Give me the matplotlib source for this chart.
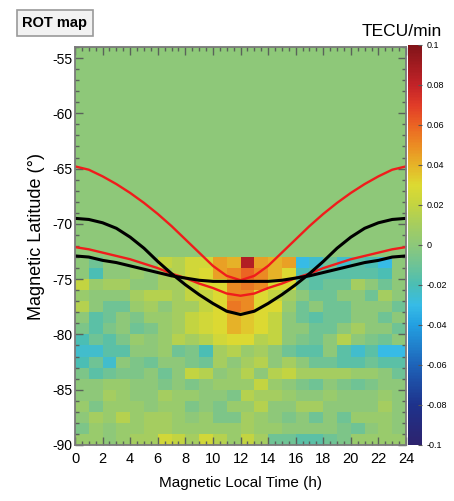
import matplotlib
matplotlib.use("Agg")
import matplotlib.pyplot as plt
import numpy as np
from matplotlib.colors import LinearSegmentedColormap, Normalize
from matplotlib.patches import Rectangle

plt.rcParams['font.family'] = ['Liberation Sans', 'DejaVu Sans']
plt.rcParams['axes.unicode_minus'] = False

# grid: 1 h in MLT, 1 deg in latitude (-90 .. -73)
mlt_edges = np.arange(0, 25, 1)
lat_edges = np.arange(-90, -72, 1)

# ROT values (TECU/min), rows from -73 (top) down to -90 (bottom)
rot_rows = [
    [0.0, -0.01, 0.0, 0.0, 0.0, 0.0, 0.02, 0.015, 0.025, 0.025, 0.045, 0.04, 0.085, 0.045, 0.04, 0.045, -0.03, -0.025, -0.01, -0.025, -0.015, -0.02, -0.03, 0.0],
    [0.0, -0.02, 0.0, 0.0, 0.005, 0.0, 0.01, 0.015, 0.025, 0.03, 0.045, 0.05, 0.06, 0.05, 0.04, 0.03, -0.02, -0.015, -0.015, -0.015, -0.015, -0.015, -0.02, 0.0],
    [0.02, 0.005, 0.01, 0.01, 0.0, 0.0, 0.01, 0.01, 0.02, 0.03, 0.03, 0.05, 0.055, 0.05, 0.03, 0.03, -0.01, -0.015, -0.01, -0.01, 0.01, 0.0, -0.01, 0.0],
    [0.005, 0.0, 0.0, 0.0, 0.01, 0.015, 0.015, 0.01, 0.02, 0.02, 0.03, 0.05, 0.05, 0.03, 0.02, 0.01, 0.0, -0.01, -0.01, 0.0, 0.0, -0.01, 0.01, 0.0],
    [0.015, 0.0, -0.01, -0.01, 0.005, 0.01, 0.0, 0.01, 0.01, 0.02, 0.03, 0.055, 0.05, 0.03, 0.03, 0.005, -0.01, 0.0, -0.01, -0.01, 0.0, 0.0, 0.0, -0.01],
    [0.0, -0.015, -0.01, 0.0, -0.005, 0.005, 0.005, 0.01, 0.02, 0.025, 0.03, 0.04, 0.035, 0.03, 0.02, 0.0, -0.01, -0.015, -0.01, -0.01, 0.0, 0.0, -0.01, 0.0],
    [-0.005, -0.015, -0.005, 0.0, -0.01, -0.005, 0.005, 0.01, 0.02, 0.025, 0.03, 0.04, 0.035, 0.03, 0.02, 0.0, 0.0, -0.01, -0.01, 0.0, 0.01, 0.0, 0.0, -0.01],
    [-0.02, -0.01, -0.015, -0.005, 0.005, 0.0, 0.005, 0.015, 0.01, 0.015, 0.025, 0.03, 0.03, 0.015, 0.02, 0.0, -0.005, -0.01, 0.0, 0.015, 0.0, -0.005, -0.01, 0.0],
    [-0.025, -0.025, -0.015, -0.015, 0.0, 0.0, 0.005, -0.01, -0.005, -0.02, 0.01, 0.015, 0.005, 0.01, 0.0, -0.01, -0.015, -0.015, 0.0, -0.015, -0.025, -0.015, -0.03, -0.03],
    [-0.02, -0.01, -0.025, 0.0, -0.005, -0.01, 0.0, 0.0, -0.005, -0.01, 0.01, 0.0, 0.01, 0.015, 0.0, 0.01, 0.0, -0.01, -0.01, -0.015, -0.015, -0.01, -0.015, -0.015],
    [-0.005, -0.015, -0.01, -0.005, -0.005, 0.0, -0.01, 0.0, 0.02, 0.015, 0.0, 0.005, 0.015, 0.0, 0.015, 0.02, 0.01, 0.01, 0.01, 0.01, 0.005, 0.005, 0.0, -0.01],
    [0.0, 0.0, 0.005, 0.005, 0.0, 0.0, -0.005, 0.0, -0.005, 0.0, 0.005, 0.005, 0.005, 0.02, 0.005, 0.0, -0.005, -0.01, 0.0, -0.005, -0.01, -0.005, 0.0, 0.0],
    [0.0, 0.0, 0.01, 0.005, 0.0, 0.0, 0.01, 0.005, 0.005, 0.0, 0.0, -0.005, 0.015, 0.01, 0.01, 0.005, 0.0, 0.0, 0.005, 0.0, 0.0, 0.0, 0.005, 0.0],
    [0.005, -0.005, 0.005, 0.005, 0.005, 0.0, 0.005, 0.005, -0.005, 0.0, -0.005, 0.005, 0.005, 0.015, 0.0, 0.0, 0.01, 0.01, 0.0, 0.0, 0.0, 0.0, 0.01, 0.0],
    [0.0, 0.01, 0.005, 0.015, 0.005, 0.01, 0.01, 0.005, 0.0, 0.005, -0.005, -0.005, 0.01, 0.005, 0.0, -0.005, 0.0, -0.01, 0.0, -0.01, 0.005, 0.005, 0.005, 0.0],
    [-0.005, 0.005, 0.0, 0.005, 0.005, 0.01, 0.01, 0.005, 0.005, 0.005, 0.005, 0.005, 0.01, 0.005, 0.005, 0.0, 0.0, 0.0, 0.0, -0.005, -0.01, 0.0, 0.005, 0.0],
    [0.005, 0.005, 0.0, 0.005, 0.01, 0.01, 0.025, 0.02, 0.01, 0.025, 0.015, 0.005, 0.02, 0.01, -0.01, -0.01, -0.015, -0.015, -0.01, -0.005, 0.005, 0.005, 0.005, 0.005],
]

# oval boundaries vs MLT (h)
mlt = list(range(25))
red_upper = [-64.8, -65.1, -65.7, -66.4, -67.2, -68.1, -69.1, -70.2, -71.4, -72.6, -73.8, -74.7, -75.1,
             -74.7, -73.8, -72.6, -71.4, -70.2, -69.1, -68.1, -67.2, -66.4, -65.7, -65.1, -64.8]
red_lower = [-72.1, -72.3, -72.6, -72.9, -73.2, -73.6, -74.0, -74.5, -74.9, -75.4, -75.8, -76.3, -76.5,
             -76.3, -75.8, -75.4, -74.9, -74.5, -74.0, -73.6, -73.2, -72.9, -72.6, -72.3, -72.1]
black_upper = [-69.5, -69.6, -69.9, -70.4, -71.2, -72.2, -73.4, -74.5, -75.5, -76.4, -77.2, -77.9, -78.2,
               -77.9, -77.2, -76.4, -75.5, -74.5, -73.4, -72.2, -71.2, -70.4, -69.9, -69.6, -69.5]
black_lower = [-72.9, -73.0, -73.3, -73.5, -73.8, -74.1, -74.4, -74.7, -74.9, -75.1, -75.2, -75.2, -75.2,
               -75.2, -75.2, -75.1, -74.9, -74.7, -74.4, -74.1, -73.8, -73.5, -73.3, -73.0, -72.9]

cbar_ticks = [-0.1, -0.08, -0.06, -0.04, -0.02, 0, 0.02, 0.04, 0.06, 0.08, 0.1]
cbar_labels = ['-0.1', '-0.08', '-0.06', '-0.04', '-0.02', '0', '0.02', '0.04', '0.06', '0.08', '0.1']

# palette
stops = [
    (0.00, (45, 35, 110)), (0.10, (30, 50, 140)), (0.20, (30, 100, 185)),
    (0.30, (35, 160, 225)), (0.35, (55, 188, 230)), (0.40, (75, 190, 180)),
    (0.45, (110, 195, 150)), (0.50, (141, 200, 122)), (0.55, (165, 205, 95)),
    (0.60, (195, 212, 65)), (0.65, (220, 218, 50)), (0.70, (230, 180, 40)),
    (0.75, (235, 140, 35)), (0.80, (235, 100, 35)), (0.85, (225, 60, 40)),
    (0.90, (195, 35, 40)), (1.00, (130, 20, 25)),
]
cmap = LinearSegmentedColormap.from_list(
    'rot', [(p, tuple(c / 255 for c in rgb)) for p, rgb in stops], N=256)
norm = Normalize(-0.1, 0.1)

fig = plt.figure(figsize=(4.54, 5.01), dpi=100)
ax = fig.add_axes([0.1652, 0.1118, 0.7291, 0.7944])
ax.set_facecolor(cmap(norm(0.0)))

z = np.flipud(np.array(rot_rows))
mesh = ax.pcolormesh(mlt_edges, lat_edges, z, cmap=cmap, norm=norm)

ax.plot(mlt, red_upper, color='#f01c1c', lw=1.7)
ax.plot(mlt, red_lower, color='#f01c1c', lw=1.7)
ax.plot(mlt, black_upper, color='black', lw=2.2)
ax.plot(mlt, black_lower, color='black', lw=2.2)

ax.set_xlim(0, 24)
ax.set_ylim(-90, -54)
ax.set_xticks(range(0, 25, 2))
ax.set_xticks(np.arange(0, 24.01, 0.5), minor=True)
ax.set_yticks(range(-90, -54, 5))
ax.set_yticks(range(-90, -53, 1), minor=True)
ax.tick_params(which='both', direction='in', top=True, right=True, color='#5a625a', width=1)
ax.tick_params(which='major', length=6)
ax.tick_params(which='minor', length=3)
ax.tick_params(axis='x', pad=5, labelsize=10.5)
ax.tick_params(axis='y', pad=2, labelsize=10)
for s in ax.spines.values():
    s.set_color('#7a7a7a')
    s.set_linewidth(1.3)

ax.set_xlabel('Magnetic Local Time (h)', fontsize=11, labelpad=7)
ax.set_ylabel('Magnetic Latitude (°)', fontsize=13)
ax.yaxis.set_label_coords(-0.092, 0.523)

cax = fig.add_axes([0.8987, 0.1118, 0.0308, 0.7984])
cb = fig.colorbar(mesh, cax=cax, ticks=cbar_ticks)
cb.outline.set_visible(False)
cb.ax.set_yticklabels(cbar_labels)
cb.ax.tick_params(direction='in', length=3, color='#555555', labelsize=6.5, pad=3)

fig.text(0.885, 0.938, 'TECU/min', ha='center', va='center', fontsize=12.5)

fig.patches.append(Rectangle((0.0374, 0.9281), 0.1674, 0.0519, transform=fig.transFigure,
                             facecolor='#f2f2f2', edgecolor='#9a9a9a', lw=1.2))
fig.text(0.121, 0.954, 'ROT map', ha='center', va='center', fontsize=10.5, fontweight='bold')

fig.savefig('out.png', dpi=100)
